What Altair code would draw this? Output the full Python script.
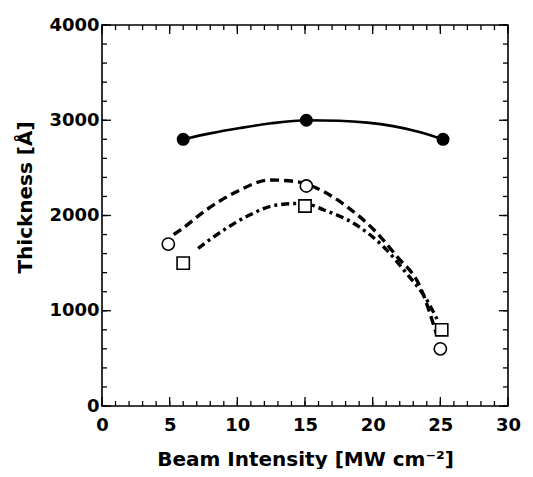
import altair as alt
import pandas as pd

# ---- data ----
filled_x = [6.0, 15.1, 25.2]
filled_y = [2800, 3000, 2800]
circle_x = [4.9, 15.1, 25.0]
circle_y = [1700, 2310, 600]
square_x = [6.0, 15.0, 25.1]
square_y = [1500, 2100, 800]

solid_x = [6.0, 8.0, 10.2, 12.5, 15.1, 17.5, 19.6, 21.5, 23.3, 25.2]
solid_y = [2800, 2862, 2918, 2968, 3000, 2995, 2975, 2938, 2883, 2800]
dashed_x = [5.3, 5.8, 7.7, 9.95, 12.4, 14.4, 16.4, 18.1, 20.1, 21.8, 23.5, 24.7]
dashed_y = [1800, 1848, 2058, 2250, 2373, 2355, 2250, 2093, 1848, 1568, 1253, 763]
dashdot_x = [7.1, 9.0, 10.9, 12.9, 14.9, 16.4, 18.8, 20.8, 22.5, 24.0, 24.8]
dashdot_y = [1655, 1848, 2005, 2110, 2128, 2058, 1900, 1672, 1393, 1113, 900]

x_ticks = [0, 5, 10, 15, 20, 25, 30]
y_ticks = [0, 1000, 2000, 3000, 4000]
x_minor = list(range(0, 31))
y_minor = list(range(0, 4001, 200))

W, H = 406, 381
FONT = "DejaVu Sans"

xs = alt.Scale(domain=[0, 30], nice=False, zero=False)
ys = alt.Scale(domain=[0, 4000], nice=False)

x_axis = alt.Axis(values=x_ticks, ticks=False, domain=False, grid=False,
                  labelFont=FONT, labelFontSize=18, labelFontWeight="bold",
                  labelPadding=10, labelColor="black", labelFlush=False,
                  title="Beam Intensity [MW cm⁻²]", titleFont=FONT,
                  titleFontSize=20, titleFontWeight="bold", titleColor="black",
                  titleY=59, titleBaseline="alphabetic")
y_axis = alt.Axis(values=y_ticks, format="d", ticks=False, domain=False, grid=False,
                  labelFont=FONT, labelFontSize=18, labelFontWeight="bold",
                  labelPadding=3, labelColor="black", labelFlush=False,
                  title="Thickness [Å]", titleFont=FONT, titleFontSize=20,
                  titleFontWeight="bold", titleColor="black",
                  titleX=-77, titleY=172, titleAngle=-90,
                  titleAlign="center", titleBaseline="middle")

X = alt.X("x:Q", scale=xs, axis=x_axis)
Y = alt.Y("y:Q", scale=ys, axis=y_axis)

def df(x, y):
    return pd.DataFrame({"x": x, "y": y})

solid = alt.Chart(df(solid_x, solid_y)).mark_line(
    color="black", strokeWidth=2.6, interpolate="monotone").encode(x=X, y=Y)

dashed = alt.Chart(df(dashed_x, dashed_y)).mark_line(
    color="black", strokeWidth=3.4, strokeDash=[9, 5], interpolate="monotone").encode(x=X, y=Y)

dashdot = alt.Chart(df(dashdot_x, dashdot_y)).mark_line(
    color="black", strokeWidth=3.4, strokeDash=[8, 4, 3, 4], interpolate="monotone").encode(x=X, y=Y)

pts_filled = alt.Chart(df(filled_x, filled_y)).mark_point(
    shape="circle", filled=True, color="black", size=170, opacity=1).encode(x=X, y=Y)

pts_circle = alt.Chart(df(circle_x, circle_y)).mark_point(
    shape="circle", filled=True, fill="white", stroke="black", strokeWidth=1.6,
    size=150, opacity=1).encode(x=X, y=Y)

pts_square = alt.Chart(df(square_x, square_y)).mark_point(
    shape="square", filled=True, fill="white", stroke="black", strokeWidth=1.6,
    size=150, opacity=1).encode(x=X, y=Y)

# inward ticks on all four sides
xmin_df = pd.DataFrame({"x": x_minor})
xmaj_df = pd.DataFrame({"x": x_ticks})
ymin_df = pd.DataFrame({"y": y_minor})
ymaj_df = pd.DataFrame({"y": y_ticks})

def xt(d, L):
    b = alt.Chart(d).mark_rule(color="black", strokeWidth=1.3).encode(
        x=X, y=alt.value(H), y2=alt.value(H - L))
    t = alt.Chart(d).mark_rule(color="black", strokeWidth=1.3).encode(
        x=X, y=alt.value(0), y2=alt.value(L))
    return b + t

def yt(d, L):
    l = alt.Chart(d).mark_rule(color="black", strokeWidth=1.3).encode(
        y=Y, x=alt.value(0), x2=alt.value(L))
    r = alt.Chart(d).mark_rule(color="black", strokeWidth=1.3).encode(
        y=Y, x=alt.value(W), x2=alt.value(W - L))
    return l + r

chart = alt.layer(
    solid, dashed, dashdot,
    xt(xmin_df, 5), xt(xmaj_df, 9), yt(ymin_df, 5), yt(ymaj_df, 9),
    pts_filled, pts_circle, pts_square,
).properties(
    width=W, height=H,
    autosize=alt.AutoSizeParams(type="none"),
    padding={"left": 94, "top": 17, "right": 17, "bottom": 63},
    background="white",
).configure_view(stroke="black", strokeWidth=1.6)

chart.save("out.html", embed_options={"renderer": "svg", "actions": False})
